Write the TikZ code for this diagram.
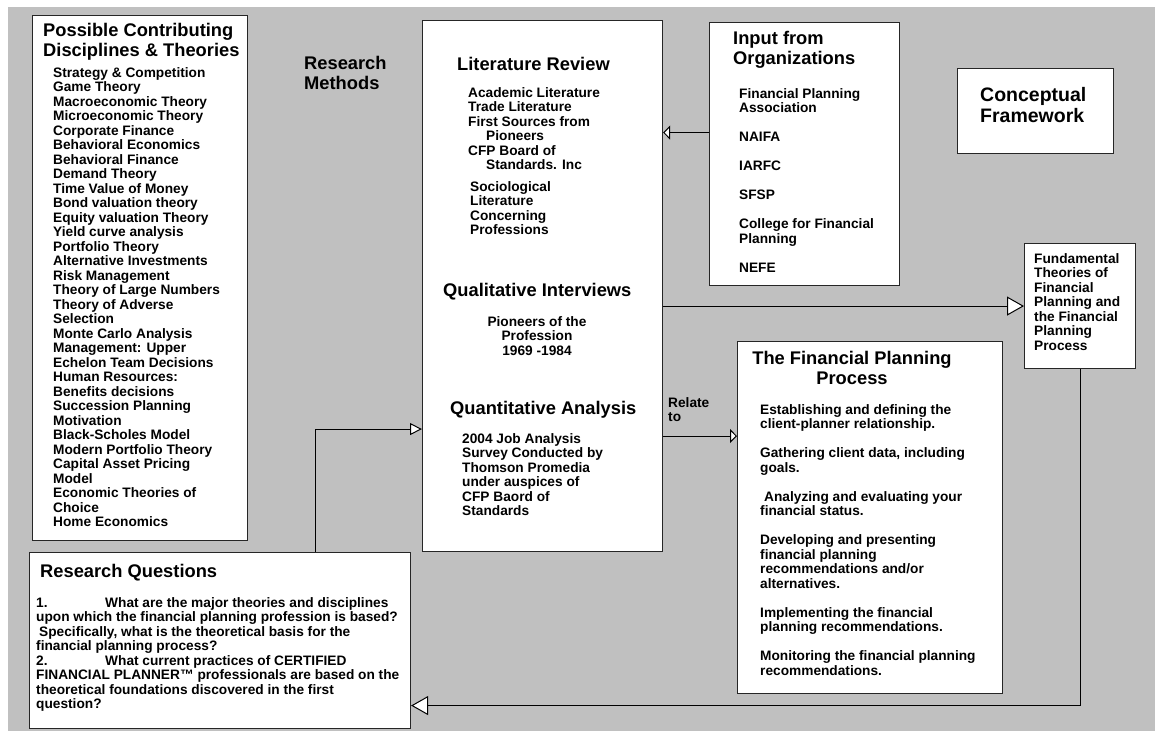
\documentclass[tikz,border=0pt]{standalone}
\usepackage{fontspec}
\setmainfont{Liberation Sans}
\usetikzlibrary{arrows.meta}

\definecolor{sheet}{RGB}{192,192,192}

\tikzset{
  panel/.style={draw=black!85, line width=1.1pt, fill=white, anchor=north west, inner sep=0pt},
  txt/.style={anchor=north west, inner sep=0pt, align=left, font=\bfseries\fontsize{13.7}{14.5}\selectfont},
  head/.style={anchor=north west, inner sep=0pt, align=left, font=\bfseries\fontsize{18.3}{20}\selectfont},
  link/.style={line width=1pt},
  bigtip/.style={link, -{Triangle[fill=white, length=17pt, width=19pt, line width=1pt]}},
  midtip/.style={link, -{Triangle[fill=white, length=12pt, width=12pt, line width=1pt]}},
  smalltip/.style={link, -{Triangle[fill=white, length=7pt, width=14pt, line width=1pt]}},
}

\begin{document}
\begin{tikzpicture}[x=1pt, y=-1pt]
    \useasboundingbox (0,0) rectangle (1155,731);
    \fill[sheet] (8,7) rectangle (1155,731);

    % boxes
    \node[panel, minimum width=215pt, minimum height=525pt] (disc) at (32,15) {};
    \node[panel, minimum width=240pt, minimum height=531pt] (lit) at (422,20) {};
    \node[panel, minimum width=190pt, minimum height=263pt] (orgs) at (709,22) {};
    \node[panel, minimum width=156pt, minimum height=85pt] (frame) at (957,68) {};
    \node[panel, minimum width=111pt, minimum height=125pt] (fund) at (1024,243) {};
    \node[panel, minimum width=265pt, minimum height=352pt] (fpp) at (737,341) {};
    \node[panel, minimum width=381pt, minimum height=176pt] (rq) at (29,552) {};

    % connectors
    \draw[smalltip] ([yshift=21.5pt]orgs.west) -- ([yshift=21.5pt]orgs.west -| lit.east);
    \draw[bigtip] (lit.east |- fund.west) -- (fund.west);
    \draw[midtip] ([xshift=95.5pt]rq.north) |- ([yshift=-143pt]lit.west);
    \draw[smalltip] ([yshift=-150pt]lit.east) -- ([yshift=-150pt]lit.east -| fpp.west);
    \draw[bigtip] (fund.south) |- ([yshift=-65pt]rq.east);

    % texts
    \node[head] (discT) at (43,23) {Possible Contributing\\Disciplines \& Theories};
    \node[txt] (discL) at (53,67) {Strategy \& Competition\\Game Theory\\Macroeconomic Theory\\
      Microeconomic Theory\\Corporate Finance\\Behavioral Economics\\Behavioral Finance\\
      Demand Theory\\Time Value of Money\\Bond valuation theory\\Equity valuation Theory\\
      Yield curve analysis\\Portfolio Theory\\Alternative Investments\\Risk Management\\
      Theory of Large Numbers\\Theory of Adverse\\Selection\\Monte Carlo Analysis\\
      Management: Upper\\Echelon Team Decisions\\Human Resources:\\Benefits decisions\\
      Succession Planning\\Motivation\\Black-Scholes Model\\Modern Portfolio Theory\\
      Capital Asset Pricing\\Model\\Economic Theories of\\Choice\\Home Economics};
    \node[head] (methods) at (304,56) {Research\\Methods};

    \node[head] (litT) at (457,57) {Literature Review};
    \node[txt] (litL) at (468,87) {Academic Literature\\Trade Literature\\First Sources from\\
      \hspace*{18pt}Pioneers\\CFP Board of\\\hspace*{18pt}Standards. Inc};
    \node[txt] (socL) at (470,181) {Sociological\\Literature\\Concerning\\Professions};
    \node[head] (qualT) at (443,283) {Qualitative Interviews};
    \node[txt, anchor=north, align=center] (qualL) at (537,316) {Pioneers of the\\Profession\\1969 -1984};
    \node[head] (quantT) at (450,401) {Quantitative Analysis};
    \node[txt] (quantL) at (462,433) {2004 Job Analysis\\Survey Conducted by\\Thomson Promedia\\
      under auspices of\\CFP Baord of\\Standards};

    \node[head] (orgsT) at (733,31) {Input from\\Organizations};
    \node[txt] (orgsL) at (739,88) {Financial Planning\\Association\\[14.5pt]NAIFA\\[14.5pt]IARFC\\[14.5pt]
      SFSP\\[14.5pt]College for Financial\\Planning\\[14.5pt]NEFE};

    \node[head, font=\bfseries\fontsize{19.5}{21.5}\selectfont] (frameT) at (980,87) {Conceptual\\Framework};
    \node[txt] (fundL) at (1034,253) {Fundamental\\Theories of\\Financial\\Planning and\\
      the Financial\\Planning\\Process};

    \node[head, anchor=north, align=center] (fppT) at (852,351) {The Financial Planning\\Process};
    \node[txt] (fppL) at (760,404) {Establishing and defining the\\client-planner relationship.\\[14.5pt]
      Gathering client data, including\\goals.\\[14.5pt]
      \hspace*{4pt}Analyzing and evaluating your\\financial status.\\[14.5pt]
      Developing and presenting\\financial planning\\recommendations and/or\\alternatives.\\[14.5pt]
      Implementing the financial\\planning recommendations.\\[14.5pt]
      Monitoring the financial planning\\recommendations.};
    \node[txt] (relate) at (668,397) {Relate\\to};

    \node[head] (rqT) at (40,564) {Research Questions};
    \node[txt] (rqL) at (36,597) {\makebox[69pt][l]{1.}What are the major theories and disciplines\\
      upon which the financial planning profession is based?\\
      \hspace*{3pt}Specifically, what is the theoretical basis for the\\
      financial planning process?\\
      \makebox[69pt][l]{2.}What current practices of CERTIFIED\\
      FINANCIAL PLANNER™ professionals are based on the\\
      theoretical foundations discovered in the first\\question?};
\end{tikzpicture}
\end{document}
